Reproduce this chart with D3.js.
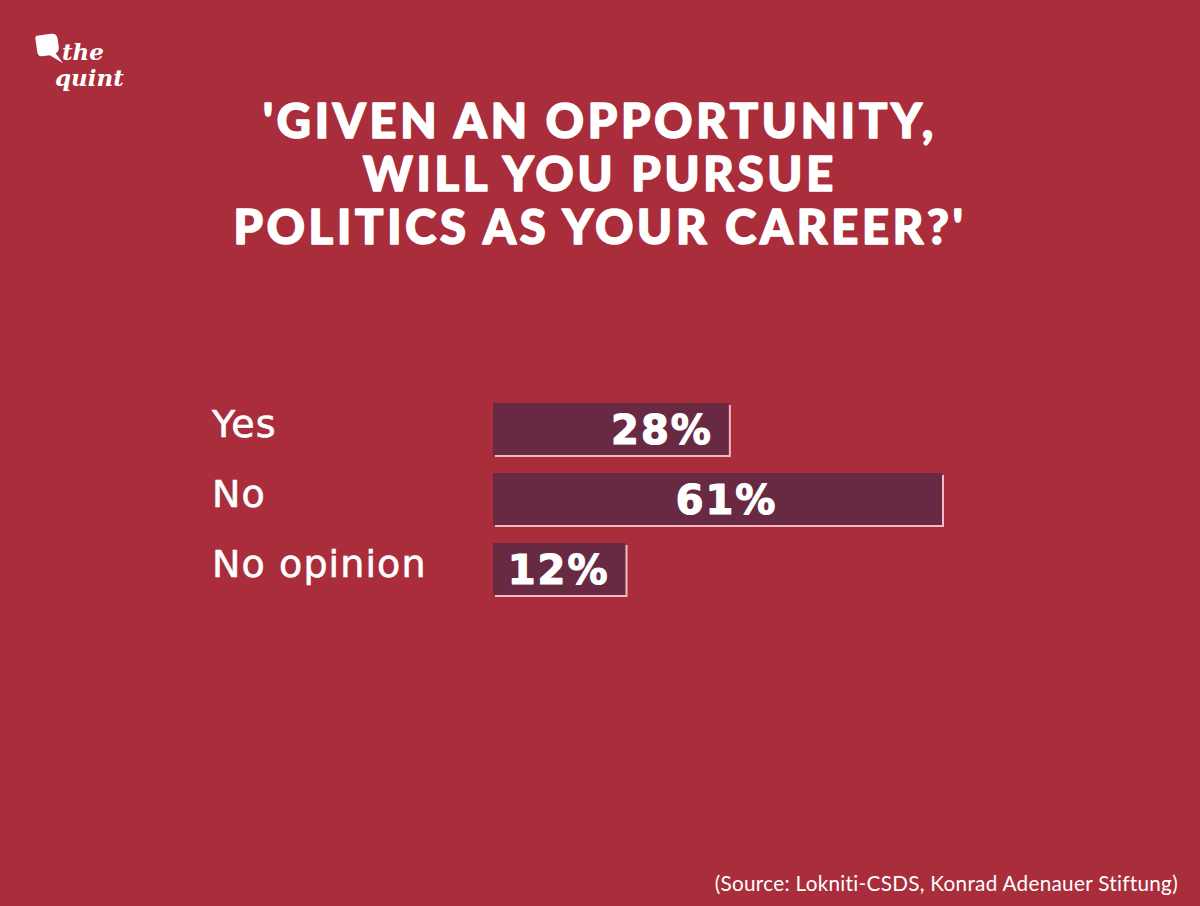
<!DOCTYPE html>
<html><head><meta charset="utf-8">
<script src="https://cdn.jsdelivr.net/npm/d3@7"></script>
<style>
html,body{margin:0;padding:0;background:#A92D3B;}
svg{display:block;}
</style></head>
<body>
<script>
const categories = ["Yes", "No", "No opinion"];
const values = [28, 61, 12];
const valueLabels = ["28%", "61%", "12%"];
const titleLines = ["'GIVEN AN OPPORTUNITY,", "WILL YOU PURSUE", "POLITICS AS YOUR CAREER?'"];
const source = "(Source: Lokniti-CSDS, Konrad Adenauer Stiftung)";

const W = 1200, H = 906;
const svg = d3.select("body").append("svg").attr("width", W).attr("height", H);
svg.append("rect").attr("width", W).attr("height", H).attr("fill", "#A92D3B");

// logo
const logo = svg.append("g").attr("transform", "translate(35,36)");
logo.append("path")
  .attr("d", "M2,0 L16,0 Q22,0 22,6 L22,14 Q22,19 18,20 L24,31 L12,21 L4,21 Q0,21 0,16 L0,3 Q0,0 2,0 Z")
  .attr("fill", "#fff").attr("transform", "rotate(-8)");
logo.append("text").attr("x", 27).attr("y", 24).text("the")
  .attr("font-family", "DejaVu Serif, Liberation Serif, serif").attr("font-style", "italic").attr("font-weight", 700)
  .attr("font-size", 23).attr("fill", "#fff");
logo.append("text").attr("x", 20).attr("y", 50).text("quint")
  .attr("font-family", "DejaVu Serif, Liberation Serif, serif").attr("font-style", "italic").attr("font-weight", 700)
  .attr("font-size", 23).attr("fill", "#fff");

// title
svg.append("g").selectAll("text").data(titleLines).join("text")
  .attr("x", W / 2).attr("y", (d, i) => 138 + i * 53)
  .attr("text-anchor", "middle")
  .attr("font-family", "Lato, Inter, sans-serif").attr("font-weight", 900)
  .attr("font-size", 47).attr("letter-spacing", 3.8)
  .attr("fill", "#fff").attr("stroke", "#fff").attr("stroke-width", 1.6)
  .attr("stroke-linejoin", "round").text(d => d);

// bars
const x0 = 493;
const x = d3.scaleLinear().domain([0, 61]).range([55, 449]);
const y = d3.scaleBand().domain(categories).range([403, 595]).paddingInner(0.257).paddingOuter(0);

const g = svg.append("g");
const rows = g.selectAll("g").data(categories).join("g")
  .attr("transform", d => `translate(0,${y(d)})`);

rows.append("rect")
  .attr("x", x0 + 2).attr("y", 2)
  .attr("width", (d, i) => x(values[i]))
  .attr("height", y.bandwidth())
  .attr("fill", "#F4B9C2");
rows.append("rect")
  .attr("x", x0).attr("y", 0)
  .attr("width", (d, i) => x(values[i]))
  .attr("height", y.bandwidth())
  .attr("fill", "#682943");

rows.append("text")
  .attr("x", 212).attr("y", y.bandwidth() / 2 + 8)
  .attr("font-family", "DejaVu Sans, sans-serif").attr("font-weight", 400)
  .attr("font-size", 38).attr("letter-spacing", 1.1)
  .attr("fill", "#fff").attr("stroke", "#fff").attr("stroke-width", 0.6)
  .text(d => d);

rows.append("text")
  .attr("x", (d, i) => x0 + Math.min(x(values[i]), x(38)) - 16)
  .attr("y", y.bandwidth() / 2 + 15)
  .attr("text-anchor", "end")
  .attr("font-family", "DejaVu Sans, sans-serif").attr("font-weight", 700)
  .attr("font-size", 40).attr("letter-spacing", 2)
  .attr("fill", "#fff").attr("stroke", "#fff").attr("stroke-width", 1.2)
  .attr("stroke-linejoin", "round").text((d, i) => valueLabels[i]);

svg.append("text").attr("x", 1178).attr("y", 891).attr("text-anchor", "end")
  .attr("font-family", "Lato, sans-serif").attr("font-weight", 400)
  .attr("font-size", 20.7).attr("letter-spacing", 0.3).attr("fill", "#fff").text(source);
</script>
</body></html>
